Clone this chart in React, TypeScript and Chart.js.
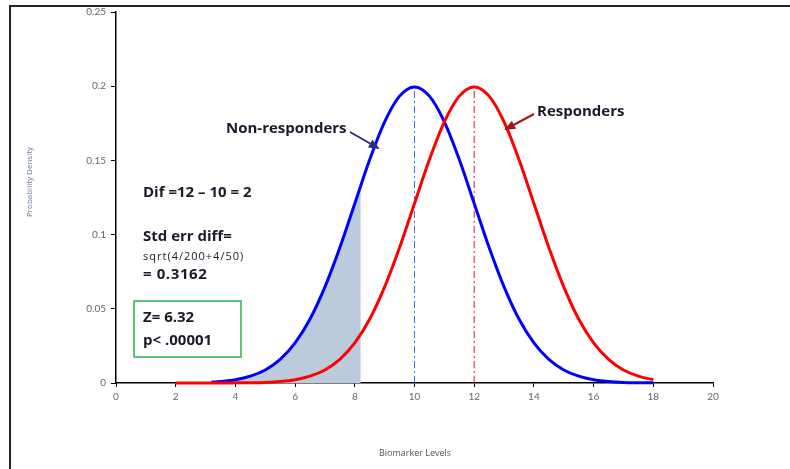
import React, { useEffect, useRef } from "react";
import { Chart, registerables } from "chart.js";

Chart.register(...registerables);

// Non-responders (mean 10), probability density
const blueX = [3.2, 3.5, 4, 4.5, 5, 5.5, 6, 6.5, 7, 7.5, 8, 8.5, 9, 9.5, 10, 10.5, 11, 11.5, 12, 12.5, 13, 13.5, 14, 14.5, 15, 15.5, 16, 16.5, 17, 17.5, 18];
const blueY = [0.0006, 0.001, 0.0022, 0.0046, 0.0088, 0.0159, 0.027, 0.0431, 0.0648, 0.0913, 0.121, 0.1506, 0.176, 0.1933, 0.1995, 0.1933, 0.176, 0.1506, 0.121, 0.0913, 0.0648, 0.0431, 0.027, 0.0159, 0.0088, 0.0046, 0.0022, 0.001, 0.0004, 0.0002, 0.0001];

// Responders (mean 12)
const redX = [2, 2.5, 3, 3.5, 4, 4.5, 5, 5.5, 6, 6.5, 7, 7.5, 8, 8.5, 9, 9.5, 10, 10.5, 11, 11.5, 12, 12.5, 13, 13.5, 14, 14.5, 15, 15.5, 16, 16.5, 17, 17.5, 18];
const redY = [0, 0, 0, 0, 0.0001, 0.0002, 0.0004, 0.001, 0.0022, 0.0046, 0.0088, 0.0159, 0.027, 0.0431, 0.0648, 0.0913, 0.121, 0.1506, 0.176, 0.1933, 0.1995, 0.1933, 0.176, 0.1506, 0.121, 0.0913, 0.0648, 0.0431, 0.027, 0.0159, 0.0088, 0.0046, 0.0022];

// Shaded tail of non-responders up to 8.2
const shadeX = [3.2, 3.5, 4, 4.5, 5, 5.5, 6, 6.5, 7, 7.5, 8, 8.2];
const shadeY = [0.0006, 0.001, 0.0022, 0.0046, 0.0088, 0.0159, 0.027, 0.0431, 0.0648, 0.0913, 0.121, 0.133];

// Mean markers
const blueMeanX = [10, 10];
const blueMeanY = [0, 0.1995];
const redMeanX = [12, 12];
const redMeanY = [0, 0.1995];

const xTicks = [0, 2, 4, 6, 8, 10, 12, 14, 16, 18, 20];
const yTicks = [0, 0.05, 0.1, 0.15, 0.2, 0.25];

const xTitle = "Biomarker Levels";
const yTitle = "Probability Density";
const labelNon = "Non-responders";
const labelResp = "Responders";
const noteLines = ["Dif =12 \u2013 10 = 2", "Std err diff=", "sqrt(4/200+4/50)", "= 0.3162"];
const boxLines = ["Z= 6.32", "p< .00001"];

const pts = (xs: number[], ys: number[]) => xs.map((x, i) => ({ x, y: ys[i] }));

function arrow(ctx: CanvasRenderingContext2D, x1: number, y1: number, x2: number, y2: number, color: string) {
  ctx.save();
  ctx.strokeStyle = color;
  ctx.fillStyle = color;
  ctx.lineWidth = 2;
  ctx.beginPath();
  ctx.moveTo(x1, y1);
  ctx.lineTo(x2, y2);
  ctx.stroke();
  const a = Math.atan2(y2 - y1, x2 - x1);
  const L = 9, W = 4.5;
  ctx.beginPath();
  ctx.moveTo(x2 + Math.cos(a) * 2, y2 + Math.sin(a) * 2);
  ctx.lineTo(x2 - Math.cos(a) * L - Math.sin(a) * W, y2 - Math.sin(a) * L + Math.cos(a) * W);
  ctx.lineTo(x2 - Math.cos(a) * L + Math.sin(a) * W, y2 - Math.sin(a) * L - Math.cos(a) * W);
  ctx.closePath();
  ctx.fill();
  ctx.restore();
}

const annotPlugin = {
  id: "annot",
  afterDraw(chart: any) {
    const ctx = chart.ctx as any;
    ctx.save();
    // frame
    ctx.strokeStyle = "#222";
    ctx.lineWidth = 2;
    ctx.beginPath();
    ctx.moveTo(10, 469);
    ctx.lineTo(10, 6);
    ctx.lineTo(790, 6);
    ctx.stroke();

    const font = "'Open Sans', Lato, sans-serif";
    // axis titles
    ctx.fillStyle = "#555";
    ctx.font = `9px ${font}`;
    ctx.textAlign = "center";
    ctx.textBaseline = "middle";
    ctx.fillText(xTitle, 415, 453);
    ctx.save();
    ctx.translate(30, 182);
    ctx.rotate(-Math.PI / 2);
    ctx.font = `8px ${font}`;
    ctx.fillStyle = "#6a7a9a";
    ctx.fillText(yTitle, 0, 0);
    ctx.restore();

    // curve labels
    ctx.fillStyle = "#1a1a2a";
    ctx.font = `bold 15px ${font}`;
    ctx.textAlign = "left";
    ctx.fillText(labelNon, 226, 129);
    ctx.fillText(labelResp, 537, 112);
    arrow(ctx, 350, 132, 378, 148, "#2a2a8a");
    arrow(ctx, 534, 114, 506, 129, "#a01818");

    // notes
    ctx.font = `bold 15px ${font}`;
    ctx.fillText(noteLines[0], 143, 193);
    ctx.fillText(noteLines[1], 143, 237);
    ctx.font = `11px ${font}`;
    ctx.letterSpacing = "1px";
    ctx.fillText(noteLines[2], 143, 257);
    ctx.font = `bold 15px ${font}`;
    ctx.letterSpacing = "0.6px";
    ctx.fillText(noteLines[3], 143, 275);
    ctx.letterSpacing = "0px";

    // box
    ctx.strokeStyle = "#2eb24c";
    ctx.lineWidth = 1.5;
    ctx.strokeRect(134, 301, 107, 56);
    ctx.fillText(boxLines[0], 143, 318);
    ctx.fillText(boxLines[1], 143, 341);
    ctx.restore();
  },
};

export default function App() {
  const ref = useRef<HTMLCanvasElement>(null);
  useEffect(() => {
    if (!ref.current) return;
    const chart = new Chart(ref.current, {
      type: "line",
      data: {
        datasets: [
          {
            data: pts(redX, redY),
            borderColor: "#ff0000",
            borderWidth: 3,
            pointRadius: 0,
            fill: false,
            cubicInterpolationMode: "monotone",
            clip: false,
            order: 0,
          },
          {
            data: pts(blueX, blueY),
            borderColor: "#0000ff",
            borderWidth: 3,
            pointRadius: 0,
            fill: false,
            cubicInterpolationMode: "monotone",
            clip: false,
            order: 1,
          },
          {
            data: pts(blueMeanX, blueMeanY),
            borderColor: "#3a6ef0",
            borderWidth: 1,
            borderDash: [7, 3, 2, 3],
            pointRadius: 0,
            fill: false,
            order: 2,
          },
          {
            data: pts(redMeanX, redMeanY),
            borderColor: "#e01818",
            borderWidth: 1,
            borderDash: [7, 3, 2, 3],
            pointRadius: 0,
            fill: false,
            order: 3,
          },
          {
            data: pts(shadeX, shadeY),
            borderWidth: 0,
            borderColor: "rgba(0,0,0,0)",
            backgroundColor: "#bccbdb",
            fill: "origin",
            pointRadius: 0,
            cubicInterpolationMode: "monotone",
            order: 9,
          },
        ],
      } as any,
      options: {
        animation: false,
        responsive: false,
        events: [],
        layout: { padding: { left: 0, top: 12, right: 77, bottom: 0 } },
        plugins: {
          legend: { display: false },
          tooltip: { enabled: false },
          title: { display: false },
          filler: { drawTime: "beforeDatasetsDraw" },
        } as any,
        scales: {
          x: {
            type: "linear",
            min: 0,
            max: 20,
            afterFit: (s: any) => { s.height = 86; },
            afterBuildTicks: (s: any) => { s.ticks = xTicks.map((v) => ({ value: v })); },
            ticks: { color: "#666", font: { family: "Lato", size: 10 }, padding: 4, maxRotation: 0 },
            grid: { drawOnChartArea: false, drawTicks: true, tickLength: 4, color: "#000", lineWidth: 1 },
            border: { display: true, color: "#000", width: 1.5 },
          },
          y: {
            min: 0,
            max: 0.25,
            afterFit: (s: any) => { s.width = 116; },
            afterBuildTicks: (s: any) => { s.ticks = yTicks.map((v) => ({ value: v })); },
            ticks: {
              color: "#666",
              font: { family: "Lato", size: 10 },
              padding: 5,
              callback: (v: any) => String(Number(Number(v).toFixed(2))),
            },
            grid: { drawOnChartArea: false, drawTicks: true, tickLength: 5, color: "#000", lineWidth: 1 },
            border: { display: true, color: "#000", width: 1.5 },
          },
        },
      },
      plugins: [annotPlugin],
    });
    return () => chart.destroy();
  }, []);
  return (
    <canvas
      ref={ref}
      width={790}
      height={469}
      style={{ position: "absolute", left: 0, top: 0, width: 790, height: 469 }}
    />
  );
}
